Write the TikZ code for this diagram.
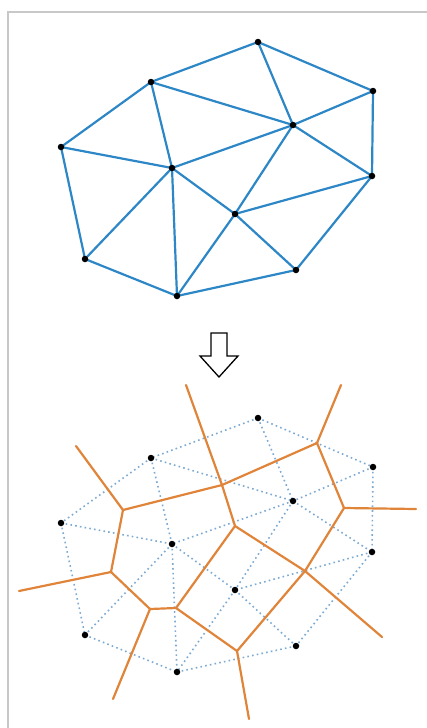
\documentclass[tikz,border=0pt]{standalone}
\usetikzlibrary{calc}
\definecolor{triblue}{RGB}{45,135,198}
\definecolor{dotblue}{RGB}{125,170,210}
\definecolor{voro}{RGB}{224,132,58}
\definecolor{frame}{RGB}{200,200,200}
\tikzset{
  site/.style={circle,fill=black,inner sep=0pt,minimum size=6.5pt},
  triedge/.style={draw=triblue,line width=2.2pt},
  dotedge/.style={draw=dotblue,line width=1.6pt,dash pattern=on 1.6pt off 3.2pt},
  voroedge/.style={draw=voro,line width=2.2pt,line cap=round,line join=round},
  arrowshape/.style={draw=black,line width=1.3pt,fill=white,line join=miter}
}
\begin{document}
\begin{tikzpicture}[x=1pt,y=-1pt]
\useasboundingbox (0,0) rectangle (427,728);
% frame
\draw[frame,line width=2pt] (8,728) -- (8,12) -- (427,12);
% ---------- top: Delaunay triangulation ----------
\foreach \n/\x/\y in {A/258/42,B/151/82,C/373/91,D/293/125,E/61/147,F/172/168,G/372/176,H/235/214,I/85/259,J/296/270,K/177/296}{
  \coordinate (t\n) at (\x,\y);
  \coordinate (b\n) at (\x,\y+376);
}
\foreach \p/\q in {A/B,A/C,A/D,B/D,B/E,B/F,C/D,C/G,D/F,D/G,D/H,E/F,E/I,F/I,F/K,F/H,G/H,G/J,H/J,H/K,I/K,K/J}{
  \draw[triedge] (t\p) -- (t\q);
  \draw[dotedge] (b\p) -- (b\q);
}
\foreach \n in {A,B,C,D,E,F,G,H,I,J,K}{
  \node[site] (nt\n) at (t\n) {};
}
% ---------- arrow ----------
\node[inner sep=0pt] (arr) at (219,355) {};
\draw[arrowshape] (211,333) -- (227,333) -- (227,356) -- (238,356) -- (219,377) -- (200,356) -- (211,356) -- cycle;
% ---------- bottom: Voronoi ----------
\coordinate (v1) at (222,485);
\coordinate (v2) at (317,443);
\coordinate (v3) at (123,510);
\coordinate (v4) at (344,508);
\coordinate (v5) at (235,526);
\coordinate (v6) at (111,572);
\coordinate (v7) at (305,571);
\coordinate (v8) at (150,609);
\coordinate (v9) at (176,608);
\coordinate (v10) at (237,651);
\coordinate (r1) at (186,385);
\coordinate (r2) at (341,385);
\coordinate (r3) at (76,446);
\coordinate (r4) at (416,509);
\coordinate (r6) at (19,591);
\coordinate (r7) at (382,637);
\coordinate (r8) at (113,699);
\coordinate (r10) at (249,719);
\foreach \p/\q in {v3/v1,v1/v2,v1/v5,v2/v4,v3/v6,v6/v8,v8/v9,v9/v5,v9/v10,v5/v7,v7/v4,v7/v10,
  v1/r1,v2/r2,v3/r3,v4/r4,v6/r6,v7/r7,v8/r8,v10/r10}{
  \draw[voroedge] (\p) -- (\q);
}
\foreach \n in {A,B,C,D,E,F,G,H,I,J,K}{
  \node[site] (nb\n) at (b\n) {};
}
\end{tikzpicture}
\end{document}
